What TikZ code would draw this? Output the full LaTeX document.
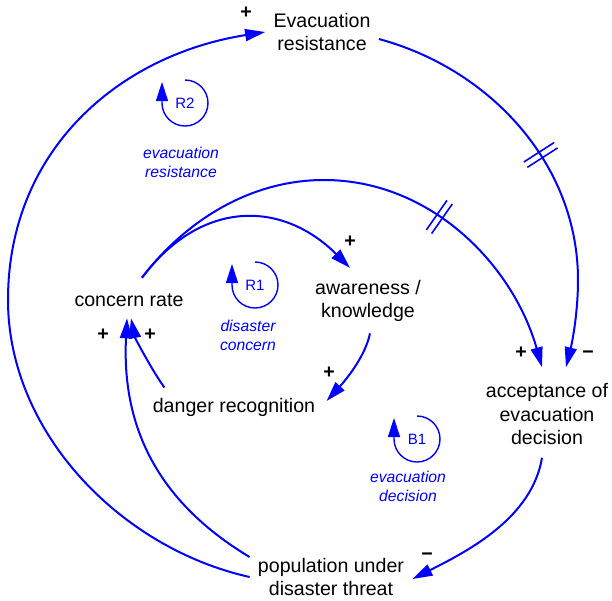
\documentclass[tikz,border=0pt]{standalone}
\usepackage{fontspec}
\setmainfont{Liberation Sans}
\usetikzlibrary{arrows.meta,decorations.markings}
\tikzset{
  var/.style={font=\fontsize{9.8}{11.6}\selectfont, align=center, inner sep=4pt},
  link/.style={draw=blue, line width=1pt, -{Triangle[length=10pt,width=6pt]}},
  loopsym/.style={draw=blue, line width=0.7pt, -{Triangle[length=9.5pt,width=6pt]}},
  looptxt/.style={text=blue, font=\fontsize{7.5}{9}\selectfont},
  loopname/.style={text=blue, font=\fontsize{7.85}{9.5}\selectfont\itshape, align=center},
  sign/.style={font=\fontsize{9.8}{11}\selectfont\bfseries, inner sep=0pt},
  delaymark/.style={postaction={decorate}, decoration={markings,
      mark=at position #1 with {\draw[blue, line width=0.8pt, arrows=-]
        (-1.6pt,-9pt) -- (-1.6pt,9pt) (1.6pt,-9pt) -- (1.6pt,9pt);}}}
}
\begin{document}
\begin{tikzpicture}[x=0.5pt, y=-0.5pt]
  \useasboundingbox (0,0) rectangle (612,601);
  \node[var] (evac) at (322,32) {Evacuation\\resistance};
  \node[var] (concern) at (129,300) {concern rate};
  \node[var] (aware) at (368,301) {awareness /\\knowledge};
  \node[var] (danger) at (234,407) {danger recognition};
  \node[var] (accept) at (547,414) {acceptance of\\evacuation\\decision};
  \node[var] (popul) at (331,577) {population under\\disaster threat};

  \node[looptxt] (r2) at (185,103) {R2};
  \node[loopname] (r2name) at (181,162) {evacuation\\resistance};
  \node[looptxt] (r1) at (255,285) {R1};
  \node[loopname] (r1name) at (248,335) {disaster\\concern};
  \node[looptxt] (b1) at (417,439) {B1};
  \node[loopname] (b1name) at (408,486) {evacuation\\decision};

  \draw[loopsym] ([yshift=11.5pt]r2.center) arc[start angle=-90, end angle=180, radius=23] -- ++(0,-21);
  \draw[loopsym] ([yshift=11.5pt]r1.center) arc[start angle=-90, end angle=180, radius=23] -- ++(0,-21);
  \draw[loopsym] ([yshift=11.5pt]b1.center) arc[start angle=-90, end angle=180, radius=23] -- ++(0,-21);

  \draw[link] ([xshift=6.5pt,yshift=3.75pt]concern.north) .. controls (202,198) and (283,201) .. ([xshift=-9pt,yshift=2pt]aware.north);
  \draw[link, delaymark=0.645] ([xshift=6.5pt,yshift=3.75pt]concern.north) .. controls (186,220) and (251,180) .. (324,180)
    .. controls (431,180) and (513,265) .. ([xshift=-2.5pt,yshift=4pt]accept.north);
  \draw[link] ([xshift=1pt,yshift=-1.6pt]aware.south) .. controls (365,358) and (343,383) .. ([xshift=1.5pt,yshift=3pt]danger.east);
  \draw[link] ([xshift=10pt,yshift=1pt]danger.north west) .. controls (153,372) and (135,338) .. ([xshift=1pt,yshift=-1.75pt]concern.south);
  \draw[link] ([yshift=10pt]popul.west) .. controls (168,508) and (121,438) .. ([xshift=-1pt,yshift=-1.75pt]concern.south);
  \draw[link] (popul.west) .. controls (120,548) and (8,432) .. (8,300) .. controls (8,150) and (119,55) .. (evac.west);
  \draw[link, delaymark=0.48] ([yshift=-3.5pt]evac.east) .. controls (490,69) and (578,164) .. (578,280)
    .. controls (578,310) and (573,339) .. ([xshift=9.5pt,yshift=4pt]accept.north);
  \draw[link] ([xshift=-2.5pt,yshift=-2.5pt]accept.south) .. controls (532,518) and (468,551) .. ([yshift=-1pt]popul.east);

  \node[sign] (s1) at (246,13) {+};
  \node[sign] (s2) at (350,242) {+};
  \node[sign] (s3) at (329,373) {+};
  \node[sign] (s4) at (103,335) {+};
  \node[sign] (s5) at (150,335) {+};
  \node[sign] (s6) at (521,353) {+};
  \node[sign] (s7) at (588,355) {−};
  \node[sign] (s8) at (427,557) {−};
\end{tikzpicture}
\end{document}
